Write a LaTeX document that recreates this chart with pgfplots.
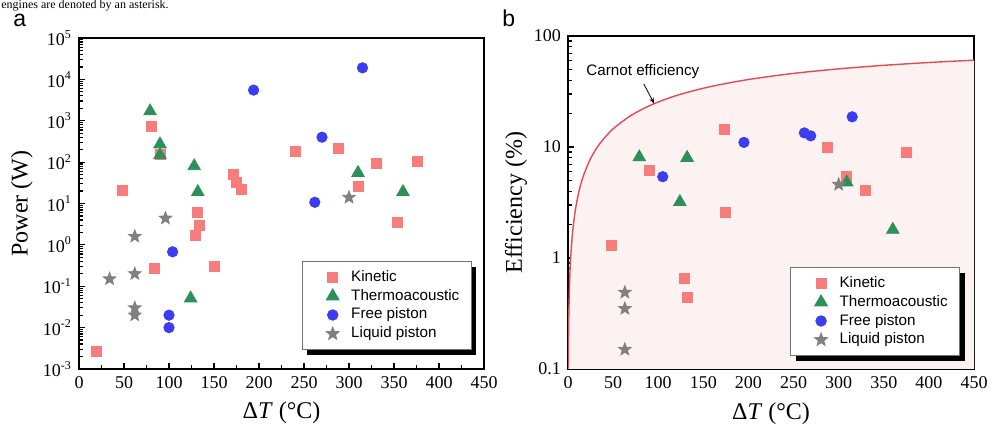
\documentclass[border=0pt]{standalone}
\usepackage{fontspec}
\setmainfont{Liberation Serif}
\newfontfamily\arial{Liberation Sans}
\usepackage{pgfplots}
\pgfplotsset{compat=1.18}
\usetikzlibrary{shadows,arrows.meta}
\definecolor{kin}{RGB}{248,124,124}
\definecolor{thermo}{RGB}{44,145,88}
\definecolor{free}{RGB}{60,60,240}
\definecolor{liq}{RGB}{128,128,128}
\definecolor{carnot}{RGB}{232,72,82}
\definecolor{carnotfill}{RGB}{253,242,242}
\newdimen\starin
\pgfdeclareplotmark{fstar}{%
  \starin=0.42\pgfplotmarksize
  \pgfpathmoveto{\pgfqpointpolar{90}{\pgfplotmarksize}}%
  \pgfpathlineto{\pgfqpointpolar{126}{\starin}}%
  \pgfpathlineto{\pgfqpointpolar{162}{\pgfplotmarksize}}%
  \pgfpathlineto{\pgfqpointpolar{198}{\starin}}%
  \pgfpathlineto{\pgfqpointpolar{234}{\pgfplotmarksize}}%
  \pgfpathlineto{\pgfqpointpolar{270}{\starin}}%
  \pgfpathlineto{\pgfqpointpolar{306}{\pgfplotmarksize}}%
  \pgfpathlineto{\pgfqpointpolar{342}{\starin}}%
  \pgfpathlineto{\pgfqpointpolar{18}{\pgfplotmarksize}}%
  \pgfpathlineto{\pgfqpointpolar{54}{\starin}}%
  \pgfpathclose
  \pgfusepathqfillstroke}
\pgfplotsset{
  myax/.style={
    scale only axis,
    xmin=0, xmax=450,
    xtick={0,50,...,450},
    minor x tick num=1,
    axis line style={line width=1pt},
    every tick/.style={black, line width=0.6pt},
    major tick length=3pt,
    minor tick length=1.8pt,
    xtick pos=bottom, ytick pos=left,
    tick align=inside,
    ticklabel style={font=\fontsize{9}{10}\selectfont},
    /pgf/number format/assume math mode=true,
    label style={font=\fontsize{12}{14}\selectfont},
    xlabel={Δ\textit{T} (°C)},
    xlabel style={at={(axis description cs:0.5,-0.133)}, anchor=center},
    legend cell align=left,
    legend style={anchor=north east, draw=black!55, line width=0.5pt, fill=white,
      drop shadow={shadow xshift=2.5pt, shadow yshift=-2.5pt, fill=black, opacity=1},
      font=\arial\fontsize{7.6}{8.8}\selectfont,
      inner xsep=4pt, inner ysep=3.3pt, row sep=0.2pt,
      nodes={inner ysep=1pt, text height=5.6pt, text depth=1.6pt}},
  },
  legimg/.style={legend image code/.code={\path (0pt,0pt) (18pt,0pt); \draw[##1] plot coordinates {(11pt,0pt)};}},
  kinst/.style={only marks, mark=square*, mark size=2.5pt, color=kin, legimg},
  thst/.style={only marks, mark=triangle*, mark size=3.6pt, color=thermo, legimg},
  frst/.style={only marks, mark=*, mark size=2.6pt, color=free, legimg},
  lqst/.style={only marks, mark=fstar, mark size=3.3pt, color=liq, legimg},
}
\begin{document}
\begin{tikzpicture}
\useasboundingbox (0,0) rectangle (498pt,216.5pt);
\node[anchor=base west, inner sep=0pt, font=\fontsize{6}{7}\selectfont] at (0.5pt,212pt) {engines are denoted by an asterisk.};
\node[anchor=base west, inner sep=0pt, font=\arial\fontsize{11.5}{13}\selectfont] at (6.5pt,203pt) {a};
\node[anchor=base west, inner sep=0pt, font=\arial\fontsize{11.5}{13}\selectfont] at (251pt,203pt) {b};

\begin{axis}[ymode=log, myax,
  at={(39.5pt,32pt)}, anchor=south west,
  width=202.5pt, height=165.5pt,
  ymin=1e-3, ymax=1e5,
  ytick={1e-3,1e-2,1e-1,1,1e1,1e2,1e3,1e4,1e5},
  minor ytick={2e-3,3e-3,4e-3,5e-3,6e-3,7e-3,8e-3,9e-3,2e-2,3e-2,4e-2,5e-2,6e-2,7e-2,8e-2,9e-2,0.2,0.3,0.4,0.5,0.6,0.7,0.8,0.9,2,3,4,5,6,7,8,9,20,30,40,50,60,70,80,90,200,300,400,500,600,700,800,900,2000,3000,4000,5000,6000,7000,8000,9000,20000,30000,40000,50000,60000,70000,80000,90000},
  yticklabels={10\textsuperscript{-3},10\textsuperscript{-2},10\textsuperscript{-1},10\textsuperscript{0},10\textsuperscript{1},10\textsuperscript{2},10\textsuperscript{3},10\textsuperscript{4},10\textsuperscript{5}},
  ylabel={Power (W)},
  ylabel style={at={(axis description cs:-0.141,0.5)}, anchor=center},
  legend style={at={(0.970,0.326)}},
]
\addplot[kinst] coordinates {(19,0.0026) (48,21) (80,740) (84,0.27) (90,150) (129,1.7) (132,6.2) (134,3.0) (150,0.3) (172,51) (175,33) (180,22) (240,185) (288,218) (310,26) (330,94) (354,3.4) (376,105)};
\addlegendentry{Kinetic}
\addplot[thst] coordinates {(79,1700) (90,270) (90,148) (124,0.051) (128,80) (132,19) (310,55) (360,19)};
\addlegendentry{Thermoacoustic}
\addplot[frst] coordinates {(100,0.02) (100,0.01) (104,0.68) (194,5500) (262,10.7) (270,400) (315,19000)};
\addlegendentry{Free piston}
\addplot[lqst] coordinates {(34,0.15) (62,1.6) (62,0.2) (62,0.03) (62,0.02) (96,4.4) (300,14)};
\addlegendentry{Liquid piston}
\end{axis}

\begin{axis}[ymode=log, myax,
  at={(284pt,32pt)}, anchor=south west,
  width=203pt, height=166.5pt,
  ymin=0.1, ymax=100,
  ytick={0.1,1,10,100},
  minor ytick={0.2,0.3,0.4,0.5,0.6,0.7,0.8,0.9,2,3,4,5,6,7,8,9,20,30,40,50,60,70,80,90},
  yticklabels={0.1,1,10,100},
  ylabel={Efficiency (\%)},
  ylabel style={at={(axis description cs:-0.128,0.5)}, anchor=center},
  legend style={at={(0.966,0.306)}},
]
\addplot[forget plot, draw=none, fill=carnotfill] coordinates {(0.3,0.1023) (0.5,0.1704) (1,0.3401) (2,0.678) (3,1.0135) (5,1.678) (8,2.658) (12,3.934) (17,5.484) (25,7.862) (35,10.67) (50,14.58) (70,19.28) (90,23.50) (110,27.30) (130,30.73) (160,35.32) (200,40.57) (250,46.04) (300,50.59) (350,54.43) (400,57.72) (450,60.57) (450,0.1) (0.3,0.1)};
\addplot[forget plot, carnot, line width=0.7pt, smooth] coordinates {(0.3,0.1023) (0.5,0.1704) (1,0.3401) (2,0.678) (3,1.0135) (5,1.678) (8,2.658) (12,3.934) (17,5.484) (25,7.862) (35,10.67) (50,14.58) (70,19.28) (90,23.50) (110,27.30) (130,30.73) (160,35.32) (200,40.57) (250,46.04) (300,50.59) (350,54.43) (400,57.72) (450,60.57)};
\addplot[kinst] coordinates {(48,1.29) (90,6.2) (129,0.65) (132,0.44) (173,14.5) (175,2.6) (288,10) (309,5.4) (330,4.1) (375,9.0)};
\addlegendentry{Kinetic}
\addplot[thst] coordinates {(79,8.1) (124,3.2) (132,8.0) (309,4.8) (360,1.8)};
\addlegendentry{Thermoacoustic}
\addplot[frst] coordinates {(105,5.4) (195,11) (262,13.4) (269,12.6) (315,18.7)};
\addlegendentry{Free piston}
\addplot[lqst] coordinates {(63,0.49) (63,0.35) (63,0.15) (300,4.6)};
\addlegendentry{Liquid piston}
\node[font=\arial\fontsize{7.6}{8.8}\selectfont] at (axis cs:83,48) {Carnot efficiency};
\draw[-{Stealth[length=3pt]}, line width=0.4pt] (axis cs:84,37) -- (axis cs:95.5,24.6);
\end{axis}
\end{tikzpicture}
\end{document}
